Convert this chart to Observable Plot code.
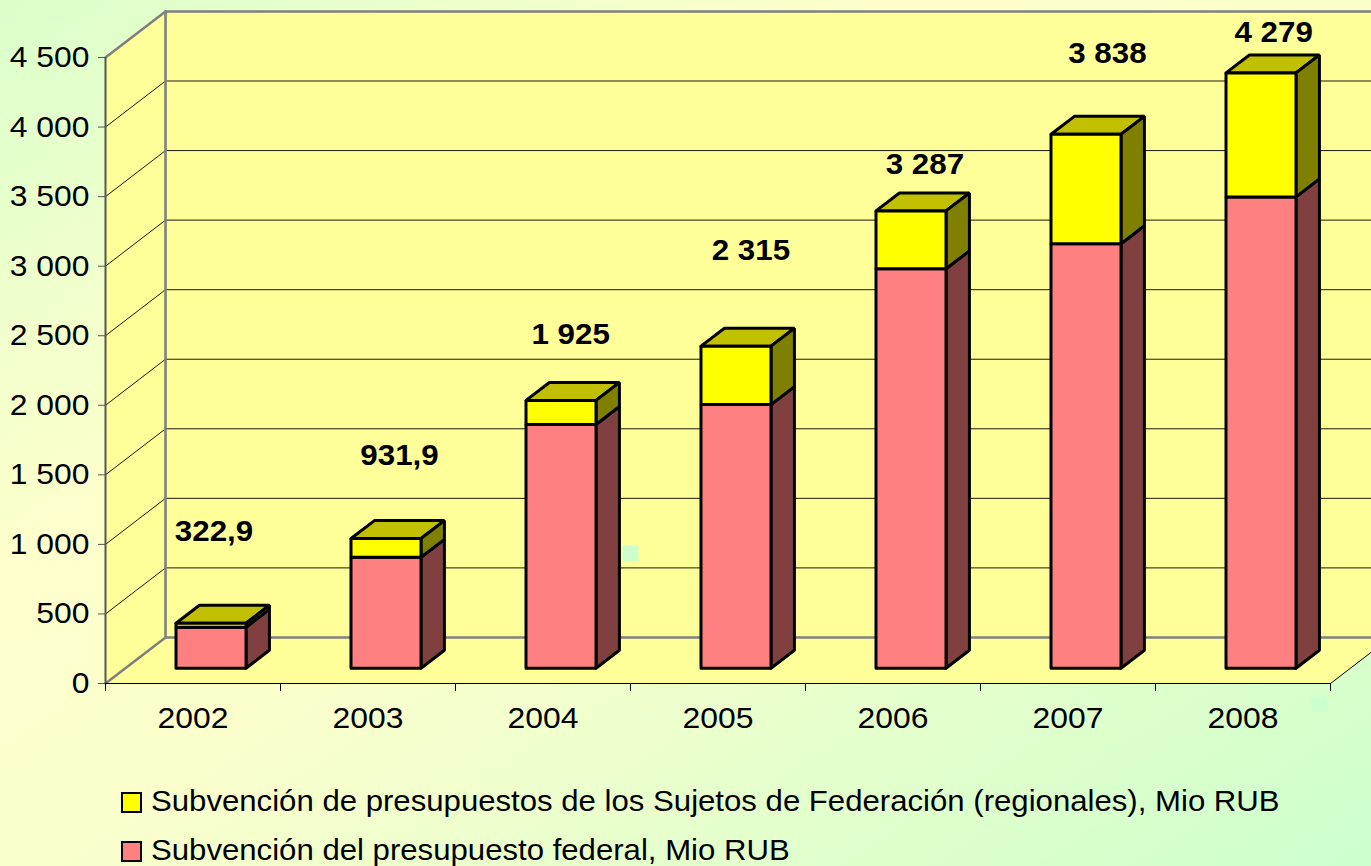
<!DOCTYPE html>
<html lang="es">
<head>
<meta charset="utf-8">
<script src="https://cdn.jsdelivr.net/npm/d3@7"></script>
<script src="https://cdn.jsdelivr.net/npm/@observablehq/plot@0.6"></script>
<style>
html,body{margin:0;padding:0;width:1371px;height:866px;overflow:hidden;}
body{background:linear-gradient(to bottom right,#DAFFCB 0%,#FFFFCC 33%,#FAFFCC 52%,#CCFFCC 100%);font-family:"Liberation Sans",Arial,sans-serif;}
svg{display:block;}
#legend{padding-left:121px;padding-top:1px;font-size:30px;color:#000;}
.row{display:flex;align-items:center;height:49px;white-space:nowrap;}
.sw{width:17px;height:17px;border:2px solid #000;margin-right:9px;flex:none;margin-top:3px;}
.tx{display:inline-block;transform:scaleX(1.038);transform-origin:left center;}
</style>
</head>
<body>
<div id="chart"></div>
<div id="legend"></div>
<script>
const years = ["2002","2003","2004","2005","2006","2007","2008"];
const federal = [294, 797, 1752, 1895, 2871, 3051, 3388];
const totals = [322.9, 931.9, 1925, 2315, 3287, 3838, 4279];
const totalLabels = ["322,9","931,9","1 925","2 315","3 287","3 838","4 279"];
const seriesNames = ["Subvención de presupuestos de los Sujetos de Federación (regionales), Mio RUB","Subvención del presupuesto federal, Mio RUB"];
const yTicks = [0,500,1000,1500,2000,2500,3000,3500,4000,4500];

// Depth of the pseudo-3D box, in scale units
const DX = 0.343, DY = 331;
const P = (c, v, d) => ({x: c + d * DX, y: v + d * DY});
const FRONT = 0.3, BACK = 0.69, HALF = 0.2;

const faces = [];
function face(id, fill, pts) {
  [...pts, pts[0]].forEach(p => faces.push({id, fill, x: p.x, y: p.y}));
}
years.forEach((yr, i) => {
  const l = i + 0.5 - HALF, r = i + 0.5 + HALF, s = federal[i], t = totals[i];
  face(yr+"top", "#C0C000", [P(l,t,FRONT),P(r,t,FRONT),P(r,t,BACK),P(l,t,BACK)]);
  face(yr+"sideF", "#804040", [P(r,0,FRONT),P(r,s,FRONT),P(r,s,BACK),P(r,0,BACK)]);
  face(yr+"sideR", "#808000", [P(r,s,FRONT),P(r,t,FRONT),P(r,t,BACK),P(r,s,BACK)]);
  face(yr+"frontF", "#FF8080", [P(l,0,FRONT),P(r,0,FRONT),P(r,s,FRONT),P(l,s,FRONT)]);
  face(yr+"frontR", "#FFFF00", [P(l,s,FRONT),P(r,s,FRONT),P(r,t,FRONT),P(l,t,FRONT)]);
});

const yMax = 4500, n = years.length;
const walls = [];
function wall(id, pts) { pts.forEach(p => walls.push({id, x: p.x, y: p.y})); }
wall("left", [P(0,0,0),P(0,yMax,0),P(0,yMax,1),P(0,0,1)]);
wall("back", [P(0,0,1),P(0,yMax,1),P(n,yMax,1),P(n,0,1)]);
wall("floor", [P(0,0,0),P(n,0,0),P(n,0,1),P(0,0,1)]);

const grid = [];
yTicks.slice(1,-1).forEach(v => [P(0,v,0),P(0,v,1),P(n,v,1)].forEach(p => grid.push({id:v, x:p.x, y:p.y})));
const frameLines = [P(0,0,0),P(0,0,1),P(n,0,1)].map(p => ({id:"bottom",...p}))
  .concat([P(0,yMax,0),P(0,yMax,1),P(n,yMax,1)].map(p => ({id:"upper",...p})))
  .concat([P(0,0,1),P(0,yMax,1)].map(p => ({id:"corner",...p})));
const floorEdge = [P(n,0,0),P(n,0,1)];

// Hand-placed total labels: height and shift (in scale units)
const labelY = [1090, 1635, 2510, 3110, 3730, 4530, 4680];
const labelShift = [0.12, 0.18, 0.158, 0.188, 0.182, 0.225, 0.175];
const labels = totalLabels.map((text, i) => ({text, x: i + 0.5 + labelShift[i], y: labelY[i]}));
const specks = [{x:3.0,y:934},{x:6.937,y:-151}];

const chart = Plot.plot({
  width: 1371, height: 775,
  marginLeft: 105, marginRight: 41, marginTop: 57, marginBottom: 92,
  x: {type:"linear", domain:[0,n]},
  y: {type:"linear", domain:[0,yMax]},
  style: {background:"transparent", fontFamily:"Liberation Sans, Arial, sans-serif", color:"#000"},
  marks: [
    Plot.line(walls, {x:"x", y:"y", z:"id", fill:"#FFFF99", stroke:"none"}),
    Plot.line(grid, {x:"x", y:"y", z:"id", stroke:"#000", strokeWidth:1, strokeOpacity:0.9}),
    Plot.line(frameLines, {x:"x", y:"y", z:"id", stroke:"#808080", strokeWidth:2.6}),
    Plot.line(floorEdge, {x:"x", y:"y", stroke:"#000", strokeWidth:1}),
    Plot.ruleX([0], {y1:0, y2:yMax, stroke:"#555", strokeWidth:2}),
    Plot.ruleY([0], {x1:0, x2:n, stroke:"#000", strokeWidth:1}),
    Plot.axisY({ticks:yTicks, anchor:"left", tickSize:7, tickPadding:9, fontSize:29.5, stroke:"#555", fill:"#000", textStroke:"none",
      tickFormat:d => d3.format(",")(d).replace(/,/g," "), label:null}),
    Plot.axisX({ticks:d3.range(n+1), anchor:"bottom", tickSize:8, tickFormat:() => "", label:null, stroke:"#000"}),
    Plot.text(years, {x:(d,i) => i + 0.5, y:0, dy:35, text:d => d, fontSize:29.5, fill:"#000"}),
    Plot.line(faces, {x:"x", y:"y", z:"id", fill:"fill", stroke:"#000", strokeWidth:3, strokeLinejoin:"miter", dy:-1.5}),
    Plot.dot(specks, {x:"x", y:"y", symbol:"square", r:9, fill:"#CCFFCC", stroke:"none"}),
    Plot.text(labels, {x:"x", y:"y", text:"text", fontSize:29, fontWeight:"bold", fill:"#000"})
  ]
});
document.getElementById("chart").append(chart);

// The reference is stretched horizontally: widen the glyphs of every real text element
chart.querySelectorAll("text").forEach(t => {
  const len = t.getComputedTextLength();
  if (len > 0) {
    t.setAttribute("textLength", (len * 1.08).toFixed(1));
    t.setAttribute("lengthAdjust", "spacingAndGlyphs");
  }
});

const colors = ["#FFFF00","#FF8080"];
const legend = document.getElementById("legend");
seriesNames.forEach((name,i) => {
  const row = document.createElement("div"); row.className = "row";
  const sw = document.createElement("span"); sw.className = "sw"; sw.style.background = colors[i];
  const tx = document.createElement("span"); tx.className = "tx"; tx.textContent = name;
  row.append(sw, tx); legend.append(row);
});
</script>
</body>
</html>
